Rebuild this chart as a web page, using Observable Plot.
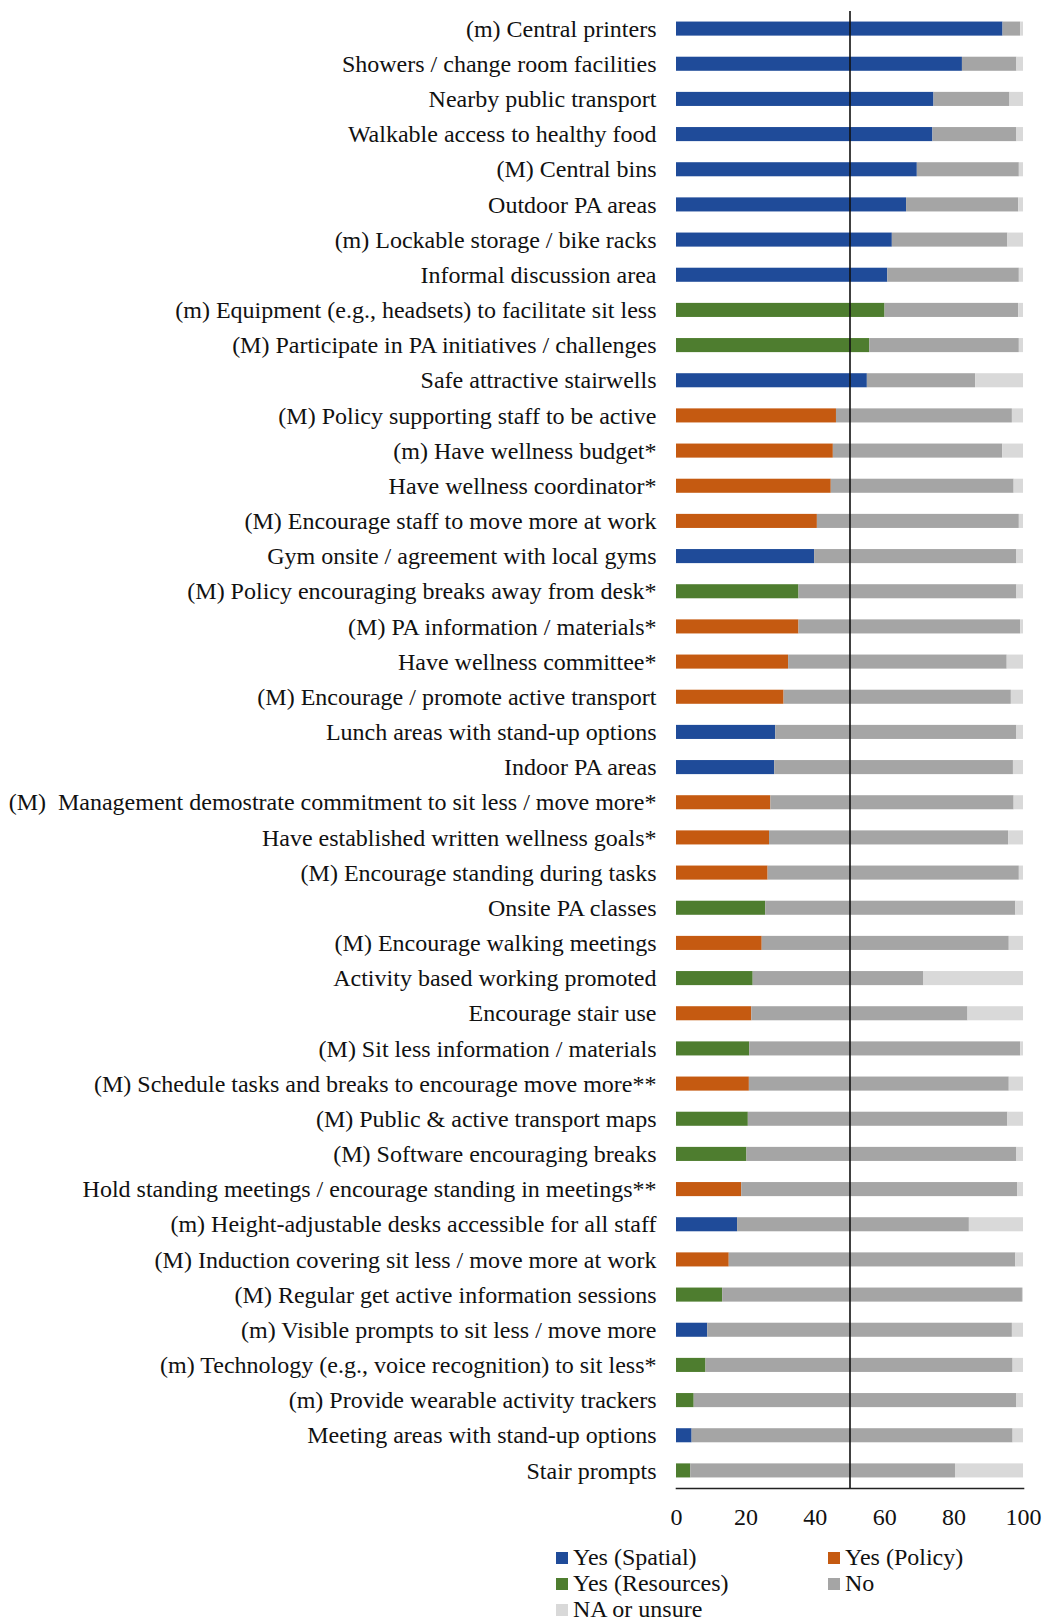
<!DOCTYPE html>
<html>
<head>
<meta charset="utf-8">
<script src="https://cdn.jsdelivr.net/npm/d3@7"></script>
<script src="https://cdn.jsdelivr.net/npm/@observablehq/plot@0.6"></script>
<style>
  body { margin: 0; background: #fff; font-family: "Liberation Serif", "DejaVu Serif", serif; }
  #wrap { position: relative; width: 1043px; }
  #legend { position: relative; height: 80px; font-family: "Liberation Serif", serif; font-size: 24px; color: #111; }
  .li { position: absolute; display: flex; align-items: center; white-space: nowrap; }
  .sw { width: 12px; height: 12px; margin-right: 5px; display: inline-block; }
</style>
</head>
<body>
<div id="wrap">
  <div id="chart"></div>
  <div id="legend"></div>
</div>
<script>
const categories = [
  "(m) Central printers",
  "Showers / change room facilities",
  "Nearby public transport",
  "Walkable access to healthy food",
  "(M) Central bins",
  "Outdoor PA areas",
  "(m) Lockable storage / bike racks",
  "Informal discussion area",
  "(m) Equipment (e.g., headsets) to facilitate sit less",
  "(M) Participate in PA initiatives / challenges",
  "Safe attractive stairwells",
  "(M) Policy supporting staff to be active",
  "(m) Have wellness budget*",
  "Have wellness coordinator*",
  "(M) Encourage staff to move more at work",
  "Gym onsite / agreement with local gyms",
  "(M) Policy encouraging breaks away from desk*",
  "(M) PA information / materials*",
  "Have wellness committee*",
  "(M) Encourage / promote active transport",
  "Lunch areas with stand-up options",
  "Indoor PA areas",
  "(M)  Management demostrate commitment to sit less / move more*",
  "Have established written wellness goals*",
  "(M) Encourage standing during tasks",
  "Onsite PA classes",
  "(M) Encourage walking meetings",
  "Activity based working promoted",
  "Encourage stair use",
  "(M) Sit less information / materials",
  "(M) Schedule tasks and breaks to encourage move more**",
  "(M) Public & active transport maps",
  "(M) Software encouraging breaks",
  "Hold standing meetings / encourage standing in meetings**",
  "(m) Height-adjustable desks accessible for all staff",
  "(M) Induction covering sit less / move more at work",
  "(M) Regular get active information sessions",
  "(m) Visible prompts to sit less / move more",
  "(m) Technology (e.g., voice recognition) to sit less*",
  "(m) Provide wearable activity trackers",
  "Meeting areas with stand-up options",
  "Stair prompts"
];
const yesType = ["S","S","S","S","S","S","S","S","R","R","S","P","P","P","P","S","R","P","P","P","S","S","P","P","P","R","P","R","P","R","P","R","R","P","S","P","R","S","R","R","S","R"];
const yesValues = [94.1,82.4,74.2,73.9,69.4,66.3,62.2,60.9,60.1,55.7,55.0,46.1,45.2,44.6,40.6,39.8,35.3,35.3,32.3,31.0,28.6,28.3,27.2,26.8,26.4,25.7,24.7,22.1,21.7,21.1,21.0,20.7,20.3,18.8,17.6,15.2,13.3,9.0,8.5,5.1,4.5,4.1];
const noValues = [5.1,15.7,21.9,24.2,29.4,32.3,33.3,37.9,38.5,43.1,31.2,50.7,48.8,52.7,58.2,58.3,62.8,63.9,63.0,65.5,69.5,68.8,70.1,68.9,72.4,72.1,71.2,49.2,62.3,78.1,74.9,74.8,77.8,79.5,66.8,82.6,86.4,87.8,88.5,93.0,92.5,76.3];
const naValues = [0.8,1.9,3.9,1.9,1.2,1.4,4.5,1.2,1.4,1.2,13.8,3.2,6.0,2.7,1.2,1.9,1.9,0.8,4.7,3.5,1.9,2.9,2.7,4.3,1.2,2.2,4.1,28.7,16.0,0.8,4.1,4.5,1.9,1.7,15.6,2.2,0.3,3.2,3.0,1.9,3.0,19.6];
const xTicks = [0, 20, 40, 60, 80, 100];

const typeNames = {S: "Yes (Spatial)", P: "Yes (Policy)", R: "Yes (Resources)"};
const legendKeys = ["Yes (Spatial)", "Yes (Policy)", "Yes (Resources)", "No", "NA or unsure"];
const legendColors = ["#1f4b99", "#c55a11", "#4e7d2f", "#a5a5a5", "#d9d9d9"];

const rows = [];
categories.forEach((c, i) => {
  rows.push({cat: c, key: typeNames[yesType[i]], value: yesValues[i], ord: 0});
  rows.push({cat: c, key: "No", value: noValues[i], ord: 1});
  rows.push({cat: c, key: "NA or unsure", value: naValues[i], ord: 2});
});

const chart = Plot.plot({
  width: 1043,
  height: 1540,
  marginLeft: 676,
  marginRight: 20,
  marginTop: 11,
  marginBottom: 52,
  style: {fontFamily: "'Liberation Serif', serif", fontSize: "24px", color: "#111", background: "#fff"},
  x: {domain: [0, 100], ticks: xTicks, tickSize: 0, tickPadding: 19, label: null},
  y: {domain: categories, paddingInner: 0.6, paddingOuter: 0.3, round: false, tickSize: 0, tickPadding: 20, label: null},
  color: {domain: legendKeys, range: legendColors},
  marks: [
    Plot.barX(rows, Plot.stackX({x: "value", y: "cat", fill: "key", order: "ord"})),
    Plot.ruleX([50], {stroke: "#111", strokeWidth: 1.6}),
    Plot.frame({anchor: "bottom", stroke: "#222", strokeWidth: 1.6})
  ]
});
document.getElementById("chart").appendChild(chart);

const legend = document.getElementById("legend");
const pos = [[556, 4], [828, 4], [556, 30], [828, 30], [556, 56]];
legendKeys.forEach((k, i) => {
  const d = document.createElement("div");
  d.className = "li";
  d.style.left = pos[i][0] + "px";
  d.style.top = pos[i][1] + "px";
  d.innerHTML = `<span class="sw" style="background:${legendColors[i]}"></span><span>${k}</span>`;
  legend.appendChild(d);
});
</script>
</body>
</html>
